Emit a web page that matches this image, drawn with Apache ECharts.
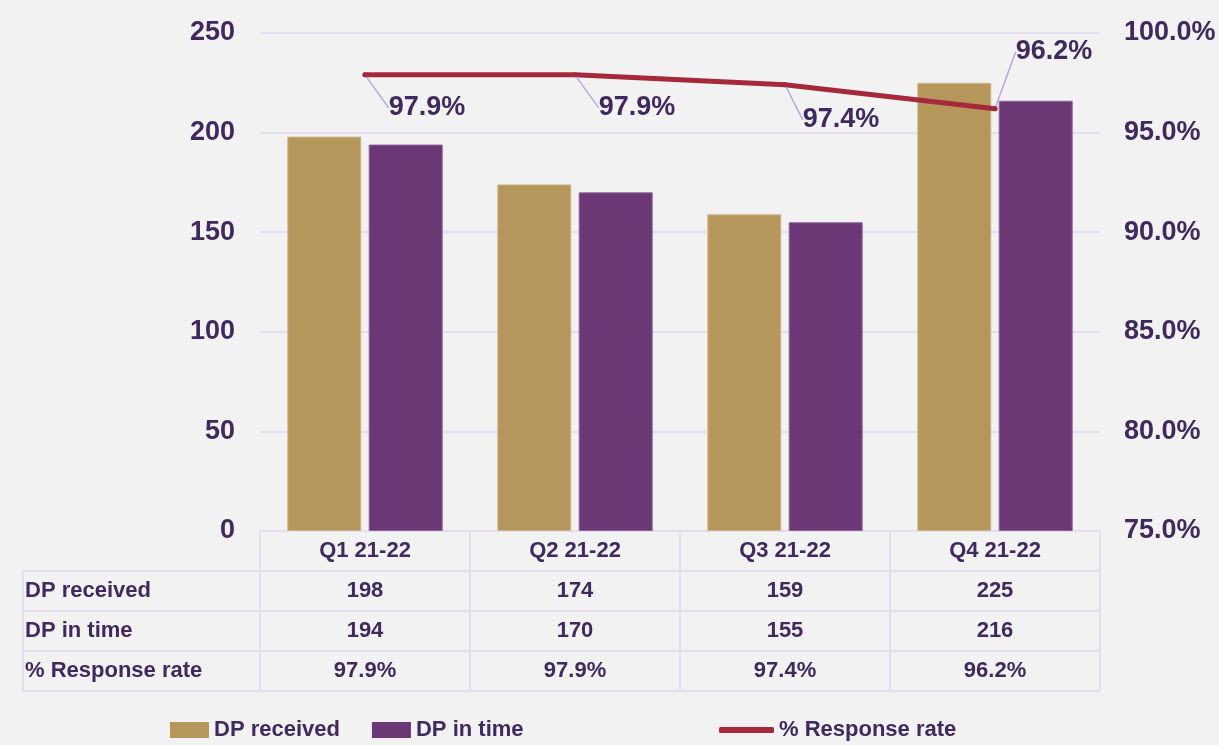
<!DOCTYPE html>
<html>
<head>
<meta charset="utf-8">
<script src="https://cdn.jsdelivr.net/npm/echarts@6/dist/echarts.min.js"></script>
<style>
html,body{margin:0;padding:0;background:#f2f2f2;}
#chart{width:1219px;height:745px;}
</style>
</head>
<body>
<div id="chart"></div>
<script>
// data
var quarters = ['Q1 21-22', 'Q2 21-22', 'Q3 21-22', 'Q4 21-22'];
var dpReceived = [198, 174, 159, 225];
var dpInTime = [194, 170, 155, 216];
var responseRate = [97.9, 97.9, 97.4, 96.2];
var tableRows = [' ', 'DP received', 'DP in time', '% Response rate'];

var txt = '#40295e';
var gridCol = '#e4dcef';
var font = "'Liberation Sans', Arial, sans-serif";

function pct(v) { return v.toFixed(1) + '%'; }

// table cells: [column, row, text]
var cells = [];
quarters.forEach(function (q, i) {
  cells.push([q, tableRows[0], q]);
  cells.push([q, tableRows[1], String(dpReceived[i])]);
  cells.push([q, tableRows[2], String(dpInTime[i])]);
  cells.push([q, tableRows[3], pct(responseRate[i])]);
});

// label offsets for the rate labels (dx, dy)
var labelShift = [[62, 33], [62, 33], [56, 35], [59, -57]];

var myChart = echarts.init(document.getElementById('chart'));
var legendText = { color: txt, fontFamily: font, fontWeight: 'bold', fontSize: 22 };
var option = {
  backgroundColor: '#f2f2f2',
  animation: false,
  grid: [
    { left: 260, right: 119, top: 33, height: 498 },
    { left: 260, right: 119, top: 531, height: 160 }
  ],
  xAxis: [
    {
      type: 'category', gridIndex: 0, data: quarters,
      axisLine: { show: false }, axisTick: { show: false }, axisLabel: { show: false }
    },
    {
      type: 'category', gridIndex: 1, data: quarters,
      axisLine: { show: false }, axisTick: { show: false }, axisLabel: { show: false },
      splitLine: { show: true, interval: 0, lineStyle: { color: gridCol, width: 2 } }
    }
  ],
  yAxis: [
    {
      type: 'value', gridIndex: 0, min: 0, max: 250, interval: 50,
      axisLine: { show: false }, axisTick: { show: false },
      axisLabel: { color: txt, fontFamily: font, fontWeight: 'bold', fontSize: 27, margin: 25 },
      splitLine: { lineStyle: { color: gridCol, width: 2 } }
    },
    {
      type: 'value', gridIndex: 0, min: 75, max: 100, interval: 5, position: 'right',
      axisLine: { show: false }, axisTick: { show: false }, splitLine: { show: false },
      axisLabel: { color: txt, fontFamily: font, fontWeight: 'bold', fontSize: 27, margin: 24,
        formatter: function (v) { return pct(v); } }
    },
    {
      type: 'category', gridIndex: 1, data: tableRows, inverse: true,
      axisLine: { show: false },
      axisTick: {
        show: true, length: 238, lineStyle: { color: gridCol, width: 2 },
        interval: function (idx) { return idx > 0; }
      },
      axisLabel: { color: txt, fontFamily: font, fontWeight: 'bold', fontSize: 22,
        align: 'left', margin: 235 },
      splitLine: { show: true, lineStyle: { color: gridCol, width: 2 } }
    }
  ],
  graphic: [
    { type: 'line', shape: { x1: 23, y1: 571, x2: 23, y2: 691 },
      style: { stroke: gridCol, lineWidth: 2 } }
  ],
  legend: [
    {
      top: 714, left: 165, itemWidth: 39, itemHeight: 16, itemGap: 32,
      itemStyle: { borderWidth: 0 },
      textStyle: legendText,
      data: [{ name: 'DP received', icon: 'rect' }, { name: 'DP in time', icon: 'rect' }]
    },
    {
      top: 714, left: 714, itemWidth: 55, itemHeight: 6,
      textStyle: legendText,
      data: [{ name: '% Response rate', icon: 'roundRect' }]
    }
  ],
  series: [
    {
      name: 'DP received', type: 'bar', xAxisIndex: 0, yAxisIndex: 0,
      data: dpReceived, barWidth: 74, barGap: '10%',
      itemStyle: { color: '#b5965b', borderColor: '#cdb88c', borderWidth: 1 }
    },
    {
      name: 'DP in time', type: 'bar', xAxisIndex: 0, yAxisIndex: 0,
      data: dpInTime, barWidth: 74,
      itemStyle: { color: '#6b3775', borderColor: '#8c6595', borderWidth: 1 }
    },
    {
      name: '% Response rate', type: 'line', xAxisIndex: 0, yAxisIndex: 1,
      data: responseRate, symbol: 'circle', symbolSize: 5, z: 5,
      lineStyle: { color: '#a5293a', width: 5, cap: 'round' },
      itemStyle: { color: '#a5293a' },
      label: {
        show: true, position: 'inside', color: txt, fontFamily: font,
        fontWeight: 'bold', fontSize: 27,
        formatter: function (p) { return pct(p.value); }
      },
      labelLine: { show: true, lineStyle: { color: '#b9a6da', width: 1.5 } },
      labelLayout: function (p) {
        var s = labelShift[p.dataIndex];
        return { dx: s[0], dy: s[1] };
      }
    },
    {
      name: 'table', type: 'scatter', xAxisIndex: 1, yAxisIndex: 2,
      data: cells, symbolSize: 0, silent: true,
      itemStyle: { opacity: 1 },
      label: {
        show: true, position: 'inside', color: txt, fontFamily: font,
        fontWeight: 'bold', fontSize: 22, opacity: 1,
        formatter: function (p) { return p.value[2]; }
      }
    }
  ]
};
myChart.setOption(option);
</script>
</body>
</html>
